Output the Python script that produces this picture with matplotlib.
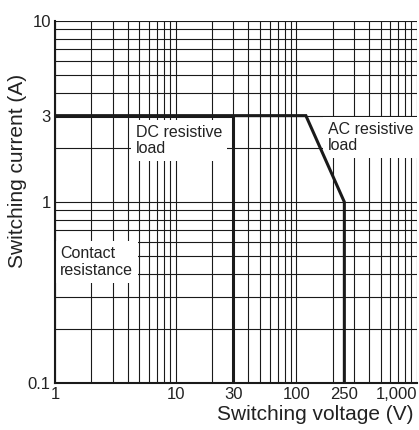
import matplotlib
matplotlib.use("Agg")
import matplotlib.pyplot as plt
import numpy as np

plt.rcParams['font.family'] = ['Liberation Sans', 'DejaVu Sans']

# Data
x_ticks = [1, 10, 30, 100, 250, 1000]
x_ticklabels = ["1", "10", "30", "100", "250", "1,000"]
y_ticks = [0.1, 1, 3, 10]
y_ticklabels = ["0.1", "1", "3", "10"]

dc_v = [1, 30, 30]
dc_i = [3, 3, 0.1]
ac_v = [1, 120, 250, 250]
ac_i = [3, 3, 1, 0.1]

fig = plt.figure(figsize=(4.19, 4.30), dpi=100)
ax = fig.add_axes([55/419, 47/430, 362/419, 362/430])
ax.set_xscale('log')
ax.set_yscale('log')
ax.set_xlim(1, 1000)
ax.set_ylim(0.1, 10)

# grid lines
gx = [m * 10**d for d in range(0, 3) for m in range(1, 10)] + [1000]
gy = [m * 10**d for d in range(-1, 1) for m in range(1, 10)] + [10]
for v in gx:
    ax.axvline(v, color='#1a1a1a', lw=0.8, zorder=1)
for v in gy:
    ax.axhline(v, color='#1a1a1a', lw=0.8, zorder=1)

ax.plot(dc_v, dc_i, color='#1a1a1a', lw=2.2, zorder=4, solid_joinstyle='miter')
ax.plot(ac_v, ac_i, color='#1a1a1a', lw=2.2, zorder=4, solid_joinstyle='miter')

box = dict(facecolor='white', edgecolor='none', pad=3.5)
ax.text(4.7, 2.68, "DC resistive\nload", fontsize=11.5, va='top', ha='left',
        color='#222222', bbox=box, zorder=3, linespacing=1.15)
ax.text(184, 2.78, "AC resistive\nload", fontsize=11.5, va='top', ha='left',
        color='#222222', bbox=box, zorder=3, linespacing=1.15)
ax.text(1.1, 0.57, "Contact\nresistance", fontsize=11.5, va='top', ha='left',
        color='#222222', bbox=box, zorder=3, linespacing=1.15)

ax.set_xticks(x_ticks)
ax.set_xticklabels(x_ticklabels)
ax.set_yticks(y_ticks)
ax.set_yticklabels(y_ticklabels)
ax.xaxis.set_minor_locator(matplotlib.ticker.NullLocator())
ax.yaxis.set_minor_locator(matplotlib.ticker.NullLocator())
ax.tick_params(length=0, labelsize=12, colors='#222222', pad=3)
ax.get_xticklabels()[-1].set_horizontalalignment('right')

for s in ['top', 'right']:
    ax.spines[s].set_visible(False)
for s in ['left', 'bottom']:
    ax.spines[s].set_linewidth(1.5)
    ax.spines[s].set_color('#1a1a1a')
    ax.spines[s].set_zorder(5)

fig.text(413/419, 1 - 415/430, "Switching voltage (V)", fontsize=15,
         ha='right', va='center', color='#222222')
fig.text(18/419, 1 - 171/430, "Switching current (A)", fontsize=15,
         ha='center', va='center', rotation=90, color='#222222')

fig.savefig("out.png", dpi=100)
